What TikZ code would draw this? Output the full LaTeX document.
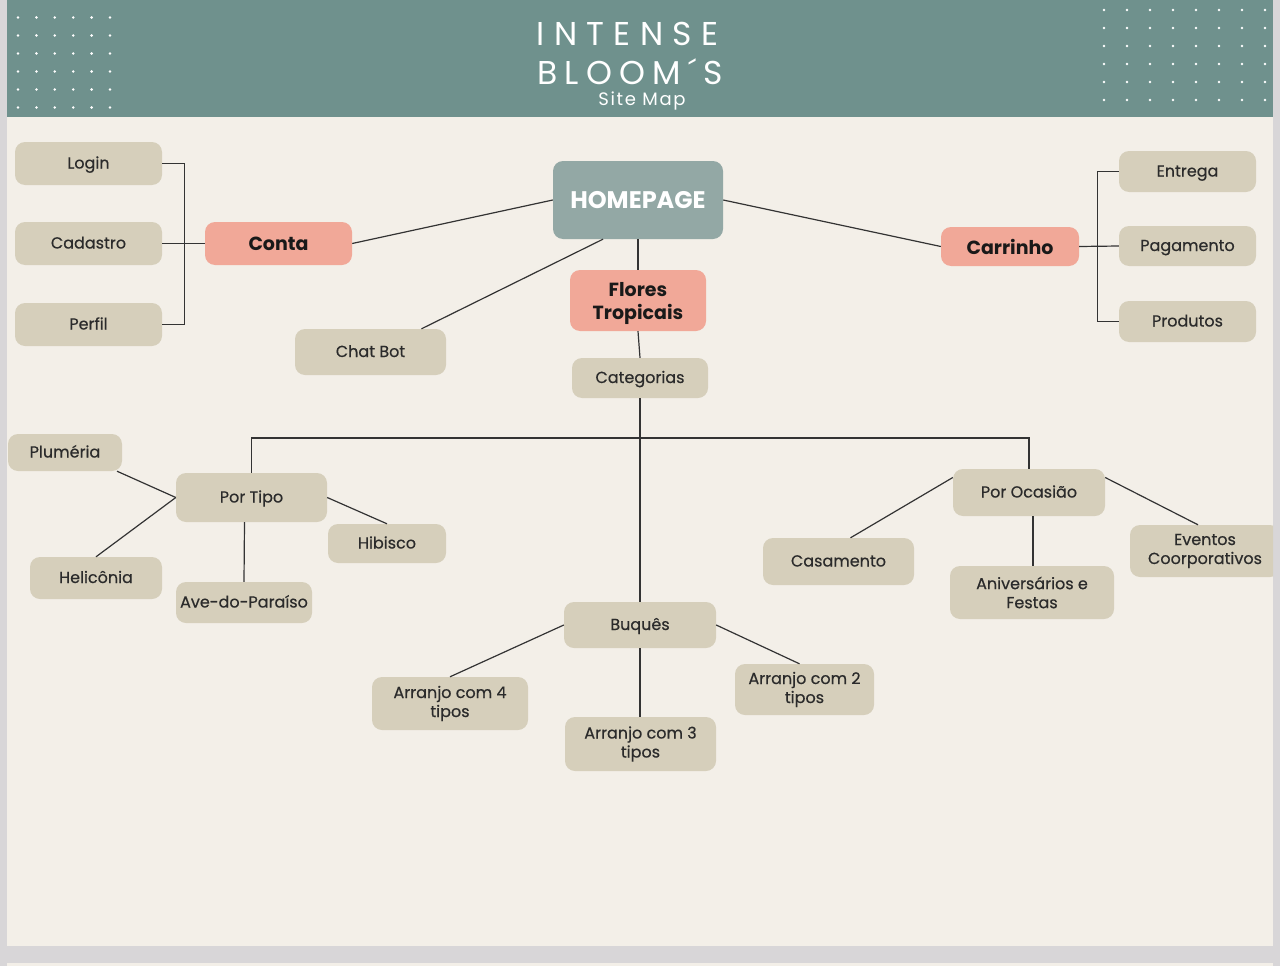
\documentclass[tikz,border=0pt]{standalone}
\usepackage{fontspec}
\setmainfont{Poppins}
\newfontfamily\titlefont[LetterSpace=28]{Poppins}
\newfontfamily\titlefontb[LetterSpace=22]{Poppins}
\newfontfamily\subfont[LetterSpace=9]{Poppins}
\newfontfamily\medfont[FakeBold=0.5]{Poppins}
\definecolor{pagebg}{HTML}{F3EFE8}
\definecolor{outside}{HTML}{D8D6D8}
\definecolor{header}{HTML}{6F918D}
\definecolor{beige}{HTML}{D6CFBB}
\definecolor{salmon}{HTML}{F1A898}
\definecolor{homec}{HTML}{93A8A5}
\definecolor{txt}{HTML}{2B2B2B}
\definecolor{linec}{HTML}{333333}
\tikzset{
  box/.style={rounded corners=10pt, fill=beige, text=txt, align=center, inner sep=0pt,
    font=\medfont\fontsize{16}{19}\selectfont},
  onebox/.style={box, text height=14pt, text depth=4pt},
  keybox/.style={box, fill=salmon, text=black!90, font=\bfseries\fontsize{19}{23}\selectfont},
  homebox/.style={box, fill=homec, text=white, font=\bfseries\fontsize{24}{26}\selectfont},
  conn/.style={draw=linec, line width=1.2pt},
  dot/.style={fill=white, draw=none}
}
\begin{document}
\begin{tikzpicture}[x=1pt,y=-1pt]
\useasboundingbox (0,0) rectangle (1280,966);
\fill[outside] (0,0) rectangle (1280,966);
\fill[pagebg] (7,963) rectangle (1273,966);
\fill[pagebg] (7,0) rectangle (1273,946);
\fill[header] (7,0) rectangle (1273,117);
% dots
\foreach \i in {0,...,5}{
  \foreach \j in {0,...,5}{
    \fill[dot] (18+18.4*\i,17.5+18*\j) circle (1.4);
  }
}
\foreach \i in {0,...,7}{
  \foreach \j in {0,...,5}{
    \fill[dot] (1104+23*\i,10+18*\j) circle (1.4);
  }
}
\node[text=white, font=\titlefont\fontsize{33}{33}\selectfont] (title1) at (627.5,34) {INTENSE};
\node[text=white, font=\titlefontb\fontsize{33}{33}\selectfont] (title2) at (630,72) {BLOOM´S};
\node[text=white, font=\subfont\fontsize{18}{18}\selectfont] (subtitle) at (642,101) {Site Map};

\begin{scope}
\clip (7,117) rectangle (1273,946);
% left group
\node[onebox, minimum width=147pt, minimum height=43pt] (login) at (88.5,163.5) {Login};
\node[onebox, minimum width=147pt, minimum height=43pt] (cadastro) at (88.5,243.5) {Cadastro};
\node[onebox, minimum width=147pt, minimum height=43pt] (perfil) at (88.5,324.5) {Perfil};
\node[keybox, minimum width=147pt, minimum height=43pt] (conta) at (278.5,243.5) {Conta};
\node[homebox, minimum width=170pt, minimum height=78pt] (home) at (638,200) {HOMEPAGE};
\node[onebox, minimum width=151pt, minimum height=46pt] (chatbot) at (370.5,352) {Chat Bot};
\node[keybox, text depth=0pt, minimum width=136pt, minimum height=61pt] (flores) at (638,300.5) {Flores\\Tropicais};
\node[onebox, minimum width=136pt, minimum height=40pt] (categorias) at (640,378) {Categorias};
% right group
\node[keybox, minimum width=138pt, minimum height=39pt] (carrinho) at (1010,246.5) {Carrinho};
\node[onebox, minimum width=137pt, minimum height=41pt] (entrega) at (1187.5,171.5) {Entrega};
\node[onebox, minimum width=137pt, minimum height=40pt] (pagamento) at (1187.5,246) {Pagamento};
\node[onebox, minimum width=137pt, minimum height=41pt] (produtos) at (1187.5,321.5) {Produtos};
% por tipo
\node[onebox, minimum width=151pt, minimum height=49pt] (portipo) at (251.5,497.5) {Por Tipo};
\node[onebox, minimum width=114pt, minimum height=37pt] (plumeria) at (65,452.5) {Pluméria};
\node[onebox, minimum width=132pt, minimum height=42pt] (heliconia) at (96,578) {Helicônia};
\node[onebox, minimum width=136pt, minimum height=41pt] (ave) at (244,602.5) {Ave-do-Paraíso};
\node[onebox, minimum width=118pt, minimum height=39pt] (hibisco) at (387,543.5) {Hibisco};
% por ocasiao
\node[onebox, minimum width=152pt, minimum height=47pt] (porocasiao) at (1029,492.5) {Por Ocasião};
\node[onebox, minimum width=151pt, minimum height=47pt] (casamento) at (838.5,561.5) {Casamento};
\node[box, minimum width=164pt, minimum height=53pt] (aniv) at (1032,592.5) {Aniversários e\\Festas};
\node[box, minimum width=150pt, minimum height=52pt] (eventos) at (1205,551) {Eventos\\Coorporativos};
% buques
\node[onebox, minimum width=152pt, minimum height=46pt] (buques) at (640,625) {Buquês};
\node[box, minimum width=156pt, minimum height=53pt] (arr4) at (450,703.5) {Arranjo com 4\\tipos};
\node[box, minimum width=151pt, minimum height=54pt] (arr3) at (640.5,744) {Arranjo com 3\\tipos};
\node[box, minimum width=139pt, minimum height=51pt] (arr2) at (804.5,689.5) {Arranjo com 2\\tipos};

% connectors
\draw[conn] (login.east) -- ++(22,0) |- (perfil.east);
\draw[conn] (cadastro.east) -- (conta.west);
\draw[conn] (conta.east) -- (home.west);
\draw[conn] ([xshift=51pt]chatbot.north) -- ([xshift=-35pt]home.south);
\draw[conn] (home.south) -- (flores.north);
\draw[conn] (flores.south) -- (categorias.north);
\draw[conn] (home.east) -- (carrinho.west);
\draw[conn] (entrega.west) -- ++(-21,0) |- (produtos.west);
\draw[conn] (carrinho.east) -- (pagamento.west);
\coordinate (bar) at (640,438);
\draw[conn] (categorias.south) -- (buques.north);
\draw[conn] (portipo.north) -- (portipo.north |- bar) -- (porocasiao.north |- bar) -- (porocasiao.north);
\draw[conn] ([xshift=52pt]plumeria.south) -- (portipo.west);
\draw[conn] (heliconia.north) -- (portipo.west);
\draw[conn] ([xshift=-7pt]portipo.south) -- (ave.north);
\draw[conn] (portipo.east) -- (hibisco.north);
\draw[conn] ([xshift=12pt]casamento.north) -- ([yshift=15pt]porocasiao.west);
\draw[conn] ([xshift=4pt]porocasiao.south) -- ([xshift=1pt]aniv.north);
\draw[conn] ([yshift=15pt]porocasiao.east) -- ([xshift=-7pt]eventos.north);
\draw[conn] (arr4.north) -- (buques.west);
\draw[conn] (buques.south) -- ([xshift=-0.5pt]arr3.north);
\draw[conn] (buques.east) -- ([xshift=-5pt]arr2.north);
\end{scope}
\end{tikzpicture}
\end{document}
